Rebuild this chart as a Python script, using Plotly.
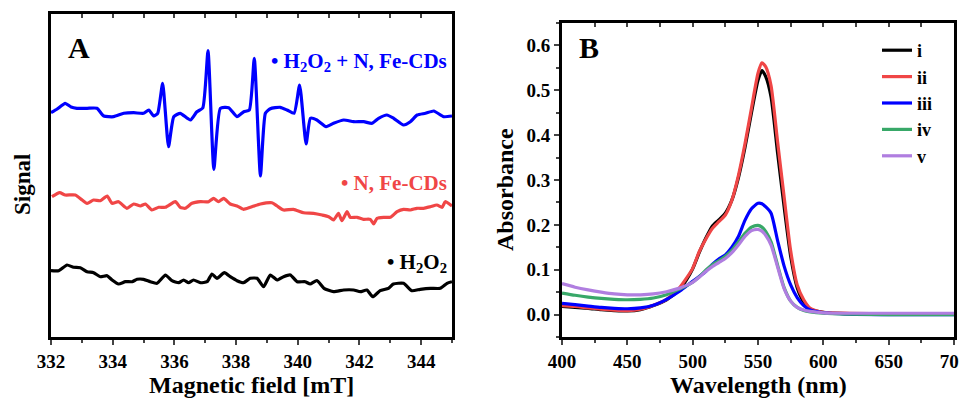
import plotly.graph_objects as go

# --- A : spectres RPE (unités arbitraires) ---
champ_bleu = [332.00, 332.20, 332.46, 332.65, 332.84, 333.17, 333.49, 333.71, 334.03, 334.36,
              334.68, 335.00, 335.17, 335.33, 335.46, 335.62, 335.81, 335.98, 336.19, 336.52,
              336.73, 336.92, 337.09, 337.28, 337.49, 337.76, 338.03, 338.25, 338.43, 338.59,
              338.79, 338.95, 339.11, 339.43, 339.65, 339.88, 340.06, 340.27, 340.41, 340.62,
              340.92, 341.16, 341.49, 341.81, 342.14, 342.41, 342.62, 342.89, 343.11, 343.43,
              343.65, 343.87, 344.14, 344.41, 344.73, 345.00]
signal_bleu = [224.3, 228, 233.7, 230, 228.7, 228.7, 228.7, 221, 220.3, 223.7,
               224.3, 223.7, 227, 221, 223.7, 253.7, 190.3, 220.3, 223.7, 217,
               225.3, 229, 286.3, 167.7, 228.7, 229.3, 220.3, 225.3, 227, 278.7,
               161, 223.7, 228.3, 229.7, 227, 223.7, 252, 193, 218.7, 217,
               210.3, 213.7, 217, 215.3, 215.3, 213.7, 218.7, 222, 218.7, 212,
               215.3, 222, 223.7, 226, 220.3, 221]

champ_rouge = [332.03, 332.28, 332.46, 332.79, 333.01, 333.17, 333.38, 333.60, 333.82, 333.98,
               334.19, 334.46, 334.68, 334.90, 335.06, 335.27, 335.49, 335.71, 336.03, 336.19,
               336.35, 336.57, 336.84, 337.11, 337.27, 337.43, 337.60, 337.81, 338.03, 338.24,
               338.46, 338.79, 339.16, 339.33, 339.54, 339.86, 340.19, 340.51, 340.79, 341.00,
               341.16, 341.32, 341.43, 341.60, 341.70, 341.92, 342.13, 342.35, 342.46, 342.57,
               342.78, 343.00, 343.22, 343.43, 343.65, 343.86, 344.08, 344.30, 344.51, 344.68,
               344.78, 345.00]
signal_rouge = [140.3, 144.3, 142, 142, 137, 133.7, 137, 136.3, 141, 133.7,
                135.3, 128.7, 133, 131, 133, 127, 129.7, 129.7, 135.3, 129.7,
                128.7, 133.7, 135.3, 135.3, 138.7, 135.3, 138.7, 133, 131, 127.7,
                129.7, 133, 134.3, 131, 127, 127.7, 124.3, 123.7, 122, 120.3,
                117, 123.7, 116.3, 125.3, 119.7, 119.7, 117.7, 117.7, 113, 118.7,
                119.7, 119.7, 125.3, 127.7, 127, 128.7, 128.7, 130.3, 132, 129.7,
                135.3, 131]

champ_noir = [332.00, 332.25, 332.52, 332.73, 332.95, 333.17, 333.38, 333.60, 333.82, 333.98,
              334.19, 334.41, 334.63, 334.79, 335.00, 335.22, 335.44, 335.71, 335.92, 336.14,
              336.30, 336.46, 336.62, 336.84, 337.06, 337.22, 337.38, 337.62, 337.81, 338.03,
              338.24, 338.46, 338.68, 338.89, 339.11, 339.33, 339.54, 339.76, 339.98, 340.24,
              340.40, 340.62, 340.85, 341.16, 341.49, 341.81, 342.03, 342.24, 342.43, 342.67,
              342.94, 343.10, 343.43, 343.70, 343.97, 344.30, 344.62, 344.84, 345.00]
signal_noir = [66.3, 66.3, 72, 69.7, 69.3, 65.3, 64.3, 60.3, 61.3, 57,
               53, 55.3, 55.3, 57.7, 57.7, 55.3, 53.7, 62, 56.3, 54.3,
               57, 54.3, 57, 54.3, 55.3, 63, 58.7, 64.3, 60.3, 56.3,
               54.3, 58.7, 58.7, 50.3, 62, 57, 60.3, 62, 55.3, 55.3,
               53, 56.5, 48.7, 45.3, 47, 47, 45.3, 47, 40.3, 46.3,
               48.7, 53, 53.7, 46.3, 47.7, 48.7, 48.7, 53.7, 55.3]

# --- B : spectres UV-vis ---
longueur_onde = [400, 410, 420, 430, 440, 450, 460, 470, 480, 490, 495, 500, 505, 510, 515,
                 520, 525, 530, 535, 540, 545, 550, 553, 556, 560, 565, 570, 575, 580, 585,
                 590, 600, 620, 650, 700]
abs_i = [0.018, 0.016, 0.014, 0.011, 0.009, 0.008, 0.011, 0.020, 0.033, 0.056, 0.076, 0.102,
         0.138, 0.170, 0.197, 0.211, 0.226, 0.255, 0.305, 0.372, 0.450, 0.522, 0.544, 0.530,
         0.485, 0.360, 0.240, 0.130, 0.060, 0.028, 0.012, 0.005, 0.002, 0.001, 0.001]
abs_ii = [0.020, 0.018, 0.015, 0.012, 0.010, 0.009, 0.012, 0.021, 0.034, 0.060, 0.080, 0.103,
          0.140, 0.168, 0.192, 0.207, 0.222, 0.255, 0.310, 0.380, 0.460, 0.538, 0.561, 0.552,
          0.510, 0.385, 0.262, 0.142, 0.066, 0.033, 0.014, 0.005, 0.003, 0.002, 0.002]
abs_iii = [0.025, 0.022, 0.019, 0.016, 0.014, 0.013, 0.015, 0.021, 0.034, 0.052, 0.063, 0.074,
           0.085, 0.096, 0.112, 0.124, 0.133, 0.150, 0.174, 0.210, 0.236, 0.248, 0.247, 0.240,
           0.226, 0.165, 0.108, 0.066, 0.038, 0.020, 0.010, 0.004, 0.001, 0.000, 0.000]
abs_iv = [0.048, 0.043, 0.039, 0.036, 0.034, 0.033, 0.034, 0.037, 0.044, 0.057, 0.064, 0.072,
          0.084, 0.099, 0.111, 0.120, 0.130, 0.143, 0.162, 0.181, 0.195, 0.199, 0.195, 0.185,
          0.162, 0.110, 0.060, 0.030, 0.016, 0.009, 0.006, 0.003, 0.001, 0.000, 0.000]
abs_v = [0.069, 0.061, 0.055, 0.050, 0.046, 0.044, 0.044, 0.046, 0.051, 0.059, 0.065, 0.072,
         0.083, 0.096, 0.107, 0.116, 0.125, 0.138, 0.155, 0.174, 0.187, 0.190, 0.186, 0.176,
         0.155, 0.106, 0.058, 0.030, 0.016, 0.010, 0.007, 0.004, 0.003, 0.003, 0.003]

noms_uv = ["i", "ii", "iii", "iv", "v"]
couleurs_uv = ["#000000", "#F04646", "#0000FF", "#38A868", "#B07EE0"]

police = "Liberation Serif"
gras = dict(family=police, color="black", weight="bold")

# la page ajoute 8 px de marge : positions mesurées sur l'image -> coordonnées papier
L, H, DECALAGE = 967, 400, 8
def px(x):
    return (x - DECALAGE) / L
def py(y):
    return 1 - (y - DECALAGE) / H

fig = go.Figure()

for champ, signal, couleur in [(champ_noir, signal_noir, "#000000"),
                               (champ_rouge, signal_rouge, "#F04646"),
                               (champ_bleu, signal_bleu, "#0000FF")]:
    fig.add_trace(go.Scatter(x=champ, y=signal, mode="lines", showlegend=False,
                             line=dict(color=couleur, width=3.2, shape="spline", smoothing=0.5),
                             xaxis="x", yaxis="y"))

for nom, valeurs, couleur in zip(noms_uv, [abs_i, abs_ii, abs_iii, abs_iv, abs_v], couleurs_uv):
    fig.add_trace(go.Scatter(x=longueur_onde, y=valeurs, mode="lines", name=nom,
                             line=dict(color=couleur, width=3.2, shape="spline", smoothing=0.6),
                             xaxis="x2", yaxis="y2"))

# axes du haut (graduations intérieures), traces invisibles pour les faire afficher
fig.add_trace(go.Scatter(x=champ_noir, y=signal_noir, mode="lines", opacity=0, showlegend=False,
                         hoverinfo="skip", xaxis="x3", yaxis="y"))
fig.add_trace(go.Scatter(x=longueur_onde, y=abs_i, mode="lines", opacity=0, showlegend=False,
                         hoverinfo="skip", xaxis="x4", yaxis="y2"))

cadre = dict(showline=True, linewidth=3, linecolor="black", mirror=True, automargin=False,
             showgrid=False, zeroline=False, tickfont=dict(size=19, **gras))
haut = dict(side="top", ticks="inside", ticklen=4, tickwidth=1.5, showticklabels=False,
            showline=False, showgrid=False, zeroline=False, automargin=False)

fig.update_layout(
    width=L, height=H, autosize=False,
    margin=dict(l=0, r=0, t=0, b=0),
    paper_bgcolor="white", plot_bgcolor="white",
    xaxis=dict(domain=[px(51), px(452)], range=[332, 345], tick0=332, dtick=2,
               ticks="outside", ticklen=5, tickwidth=2, anchor="y",
               minor=dict(dtick=1, ticks="outside", ticklen=3, tickwidth=2), **cadre),
    yaxis=dict(domain=[py(337), py(14)], range=[0, 323], showticklabels=False,
               ticks="", anchor="x", **cadre),
    xaxis3=dict(overlaying="x", anchor="y", range=[332, 345], dtick=1, **haut),
    xaxis2=dict(domain=[px(562), px(954)], range=[400, 700], tick0=400, dtick=50,
                ticks="outside", ticklen=5, tickwidth=2, anchor="y2",
                minor=dict(dtick=25, ticks="outside", ticklen=3, tickwidth=2), **cadre),
    yaxis2=dict(domain=[py(337), py(23)], range=[-0.05, 0.65], tick0=0, dtick=0.1,
                tickformat=".1f", ticks="outside", ticklen=5, tickwidth=2, anchor="x2",
                minor=dict(dtick=0.05, ticks="outside", ticklen=3, tickwidth=2), **cadre),
    xaxis4=dict(overlaying="x2", anchor="y2", range=[400, 700], dtick=25, **haut),
    legend=dict(x=px(877), y=py(32), xanchor="left", yanchor="top",
                bgcolor="rgba(0,0,0,0)", font=dict(size=18, **gras),
                tracegroupgap=0, itemwidth=30),
)

annotations = [
    dict(text="A", x=px(79), y=py(47), font=dict(size=30, **gras)),
    dict(text="B", x=px(589), y=py(47), font=dict(size=30, **gras)),
    dict(text="Signal", x=px(22), y=py(185), textangle=-90, font=dict(size=23, **gras)),
    dict(text="Magnetic field [mT]", x=px(251), y=py(385), font=dict(size=24, **gras)),
    dict(text="Absorbance", x=px(505), y=py(190), textangle=-90, font=dict(size=24, **gras)),
    dict(text="Wavelength (nm)", x=px(758), y=py(385), font=dict(size=24, **gras)),
]
for a in annotations:
    a.update(xref="paper", yref="paper", showarrow=False, xanchor="center", yanchor="middle")

étiquettes = [
    ("• H<sub>2</sub>O<sub>2</sub> + N, Fe-CDs", "#0000FF", 62),
    ("• N, Fe-CDs", "#F04646", 183),
    ("• H<sub>2</sub>O<sub>2</sub>", "#000000", 263),
]
for texte, couleur, y_img in étiquettes:
    annotations.append(dict(text=texte, x=px(449), y=py(y_img), xref="paper", yref="paper",
                            xanchor="right", yanchor="middle", showarrow=False,
                            font=dict(family=police, size=21, color=couleur, weight="bold")))

fig.update_layout(annotations=annotations)

fig.write_html("out.html")
